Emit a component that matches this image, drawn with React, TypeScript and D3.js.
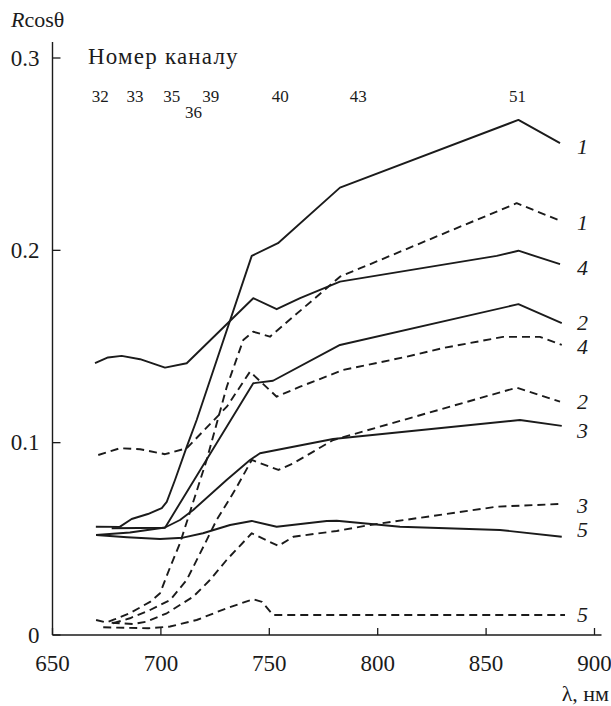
import React, { useEffect } from "react";
import * as d3 from "d3";

const wavelengthTicks = [650, 700, 750, 800, 850, 900];
const reflectanceTicks = [0, 0.1, 0.2, 0.3];
const channelNumbers = ["32", "33", "35", "36", "39", "40", "43", "51"];
const channelWavelengths = [672, 688, 705, 715, 723, 755, 791, 864.5];

// [wavelength, nm ; R cos(theta)]
const curve1Solid = [[670, 0.0563], [681, 0.0562], [686.5, 0.0603], [694, 0.0629], [700.4, 0.066], [702.7, 0.0692], [706.5, 0.0806], [711.9, 0.0978], [716.5, 0.1118], [741.9, 0.1971], [754, 0.2037], [782.6, 0.2326], [864.9, 0.2678], [884.1, 0.2557]];
const curve2Solid = [[677.3, 0.0555], [701.9, 0.0558], [742.6, 0.1309], [751.7, 0.1322], [782.6, 0.1508], [864.9, 0.172], [884.9, 0.1621]];
const curve3Solid = [[670.1, 0.052], [685.7, 0.0533], [701.9, 0.0559], [708.8, 0.0598], [714.9, 0.065], [730.3, 0.0806], [741.1, 0.091], [745.7, 0.0945], [779.4, 0.1019], [865.6, 0.1118], [884.9, 0.1087]];
const curve4Solid = [[669.6, 0.1413], [675.6, 0.1443], [681.9, 0.1451], [690.4, 0.1434], [701.9, 0.139], [711.9, 0.1413], [742.6, 0.1751], [753.4, 0.1694], [764.2, 0.1751], [782.6, 0.1837], [854.9, 0.1971], [864.9, 0.1998], [884.1, 0.1928]];
const curve5Solid = [[670.1, 0.052], [684.4, 0.0508], [699.6, 0.0499], [710.2, 0.0506], [719.4, 0.0529], [731.9, 0.0572], [741.9, 0.0593], [753.4, 0.0563], [776.5, 0.0593], [781.1, 0.0594], [810.3, 0.0563], [856.4, 0.0546], [884.9, 0.0511]];

const curve1Dashed = [[670.1, 0.0078], [674.7, 0.0065], [678.8, 0.0082], [685.7, 0.0114], [695, 0.0172], [699.6, 0.0217], [704.2, 0.0351], [708.8, 0.0477], [721.1, 0.091], [730.4, 0.1291], [738, 0.1534], [742.6, 0.1577], [750.3, 0.1551], [782.6, 0.1863], [864.1, 0.2245], [883.3, 0.2158]];
const curve2Dashed = [[677.9, 0.0061], [685.7, 0.0087], [695, 0.013], [704.3, 0.0182], [711.9, 0.0286], [719.6, 0.0459], [725.7, 0.0598], [734.2, 0.0754], [741.9, 0.091], [754.2, 0.0858], [761.1, 0.0893], [779.5, 0.1014], [864.1, 0.1286], [884.1, 0.1213]];
const curve3Dashed = [[677.3, 0.0064], [687.3, 0.0057], [693.4, 0.0069], [702.7, 0.0113], [714.9, 0.0199], [722.6, 0.0286], [730.3, 0.039], [741.9, 0.0529], [754.2, 0.0463], [761.1, 0.0511], [781.1, 0.0541], [796.4, 0.0572], [854.9, 0.0667], [883.3, 0.0681]];
const curve4Dashed = [[671.1, 0.0936], [681.1, 0.0971], [690.4, 0.0966], [701.9, 0.094], [711.9, 0.0971], [730.4, 0.1187], [741.1, 0.1369], [753.4, 0.1239], [764.2, 0.1291], [784.1, 0.1378], [813.4, 0.1447], [830.1, 0.1492], [857.8, 0.155], [874.8, 0.155], [884.9, 0.1508]];
const curve5Dashed = [[673.4, 0.004], [694.2, 0.0035], [704.2, 0.0044], [716.5, 0.0078], [730.3, 0.0139], [742.6, 0.0186], [746.6, 0.0172], [751.8, 0.0104], [886.4, 0.0104]];

const series = [
  { id: "1s", name: "1", dashed: false, points: curve1Solid },
  { id: "2s", name: "2", dashed: false, points: curve2Solid },
  { id: "3s", name: "3", dashed: false, points: curve3Solid },
  { id: "4s", name: "4", dashed: false, points: curve4Solid },
  { id: "5s", name: "5", dashed: false, points: curve5Solid },
  { id: "1d", name: "1", dashed: true, points: curve1Dashed },
  { id: "2d", name: "2", dashed: true, points: curve2Dashed },
  { id: "3d", name: "3", dashed: true, points: curve3Dashed },
  { id: "4d", name: "4", dashed: true, points: curve4Dashed },
  { id: "5d", name: "5", dashed: true, points: curve5Dashed },
];

const W = 611;
const H = 706;
const ink = "#1b1b1b";
const serif = "'Liberation Serif', 'Times New Roman', serif";

// small vertical shifts for the end labels, so they sit like in the print
const labelNudge: Record<string, number> = {
  "1s": 3, "2s": -1, "3s": 5, "4s": 3, "5s": -7,
  "1d": 3, "2d": 0, "3d": 1, "4d": 2, "5d": 0,
};

const x = d3.scaleLinear().domain([650, 900]).range([52.5, 594.5]);
const y = d3.scaleLinear().domain([0, 0.3]).range([635, 58]);
const line = d3.line<number[]>().x(d => x(d[0])).y(d => y(d[1]));
const fmtY = (v: number) => (v === 0 ? "0" : d3.format(".1f")(v));

export default function App() {
  useEffect(() => {
    document.body.style.margin = "0";
  }, []);

  const x0 = x(650);
  const y0 = y(0);

  return (
    <svg width={W} height={H} style={{ display: "block", background: "#fff" }}>
      {/* axes */}
      <line x1={x0} x2={x(900) + 7} y1={y0} y2={y0} stroke={ink} strokeWidth={1.4} />
      <line x1={x0} x2={x0} y1={y(0.3) - 16} y2={y0} stroke={ink} strokeWidth={1.4} />

      {wavelengthTicks.map(t => (
        <g key={"xt" + t}>
          <line x1={x(t)} x2={x(t)} y1={y0} y2={y0 - 7} stroke={ink} strokeWidth={1.3} />
          <text x={x(t)} y={y0 + 36} textAnchor="middle" fill={ink} style={{ fontFamily: serif, fontSize: "23px" }}>
            {t}
          </text>
        </g>
      ))}

      {reflectanceTicks.map(t => (
        <g key={"yt" + t}>
          <line x1={x0} x2={x0 + 8} y1={y(t)} y2={y(t)} stroke={ink} strokeWidth={1.3} />
          <text x={x0 - 13} y={y(t)} dy="0.33em" textAnchor="end" fill={ink} style={{ fontFamily: serif, fontSize: "23px" }}>
            {fmtY(t)}
          </text>
        </g>
      ))}

      {/* curves */}
      {series.map(s => (
        <path
          key={s.id}
          d={line(s.points) || ""}
          fill="none"
          stroke={ink}
          strokeWidth={1.9}
          strokeLinejoin="round"
          strokeDasharray={s.dashed ? "8,5" : undefined}
        />
      ))}

      {/* curve numbers at the right end */}
      {series.map(s => (
        <text
          key={"lb" + s.id}
          x={577}
          y={y(s.points[s.points.length - 1][1]) + labelNudge[s.id]}
          dy="0.34em"
          fill={ink}
          style={{ fontFamily: serif, fontStyle: "italic", fontSize: "22px" }}
        >
          {s.name}
        </text>
      ))}

      {/* y title */}
      <text x={11} y={27} fill={ink} style={{ fontFamily: serif, fontSize: "22px" }}>
        <tspan style={{ fontStyle: "italic" }}>R</tspan>
        <tspan>cosθ</tspan>
      </text>

      {/* channel header */}
      <text x={88} y={64} fill={ink} style={{ fontFamily: serif, fontSize: "23px", letterSpacing: "1.2px" }}>
        Номер каналу
      </text>
      {channelNumbers.map((c, i) => (
        <text
          key={"ch" + c}
          x={x(channelWavelengths[i])}
          y={c === "36" ? 118 : 102}
          textAnchor="middle"
          fill={ink}
          style={{ fontFamily: serif, fontSize: "17px" }}
        >
          {c}
        </text>
      ))}

      {/* x title */}
      <text x={609} y={701} textAnchor="end" fill={ink} style={{ fontFamily: serif, fontSize: "22px" }}>
        λ, нм
      </text>
    </svg>
  );
}
